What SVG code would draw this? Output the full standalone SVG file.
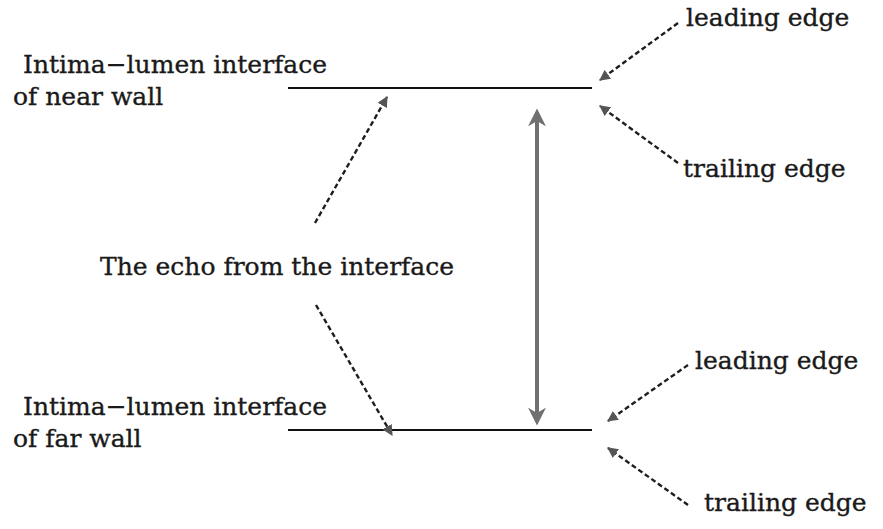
<svg xmlns="http://www.w3.org/2000/svg" width="883" height="529" viewBox="0 0 883 529">
  <style>
    .lbl { font-family: "DejaVu Serif", "Liberation Serif", serif; font-size: 25px; fill: #1a1a1a; stroke: #1a1a1a; stroke-width: 0.35; }
    .wall { stroke: #111; stroke-width: 2; fill: none; }
    .ptr { stroke: #1e1e1e; stroke-width: 2.4; stroke-dasharray: 5 3; fill: none; marker-end: url(#tip); }
    .gap { stroke: #707070; stroke-width: 4; fill: none; marker-start: url(#big); marker-end: url(#big); }
  </style>
  <defs>
    <marker id="tip" viewBox="0 0 10 10" refX="9" refY="5" markerWidth="4.5" markerHeight="4.5" orient="auto" markerUnits="strokeWidth">
      <path d="M0,0 L10,5 L0,10 Z" fill="#555"/>
    </marker>
    <marker id="big" viewBox="0 0 10 10" refX="8" refY="5" markerWidth="4.5" markerHeight="4.5" orient="auto-start-reverse" markerUnits="strokeWidth">
      <path d="M0,0 L10,5 L0,10 L3,5 Z" fill="#707070"/>
    </marker>
  </defs>

  <rect width="883" height="529" fill="#fff"/>

  <g id="near-wall">
    <text class="lbl" x="23" y="73">Intima−lumen interface</text>
    <text class="lbl" x="13" y="105">of near wall</text>
    <line class="wall" x1="288" y1="88" x2="592" y2="88"/>
  </g>

  <g id="far-wall">
    <text class="lbl" x="23" y="415">Intima−lumen interface</text>
    <text class="lbl" x="13" y="447">of far wall</text>
    <line class="wall" x1="288" y1="430" x2="592" y2="430"/>
  </g>

  <g id="echo-label">
    <text class="lbl" x="100" y="275">The echo from the interface</text>
  </g>

  <g id="near-leading"><text class="lbl" x="686" y="26">leading edge</text></g>
  <g id="near-trailing"><text class="lbl" x="683" y="177">trailing edge</text></g>
  <g id="far-leading"><text class="lbl" x="695" y="369">leading edge</text></g>
  <g id="far-trailing"><text class="lbl" x="704" y="511">trailing edge</text></g>

  <g id="connectors">
    <line class="gap" x1="537" y1="112" x2="537" y2="422"/>
    <line class="ptr" x1="678" y1="23" x2="600" y2="80"/>
    <line class="ptr" x1="678" y1="163" x2="600" y2="106"/>
    <line class="ptr" x1="688" y1="365" x2="608" y2="421"/>
    <line class="ptr" x1="688" y1="505" x2="608" y2="448"/>
    <line class="ptr" x1="315" y1="223" x2="387" y2="97"/>
    <line class="ptr" x1="316" y1="305" x2="392" y2="435"/>
  </g>
</svg>
